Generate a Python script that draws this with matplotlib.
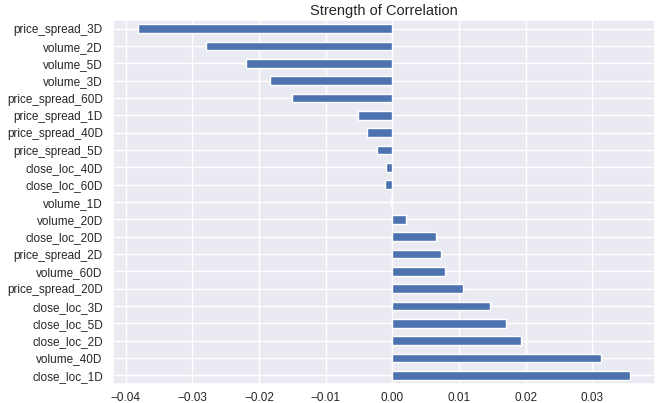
import matplotlib
matplotlib.use("Agg")
import matplotlib.pyplot as plt
import seaborn as sns
import pandas as pd

features = ["close_loc_1D", "volume_40D", "close_loc_2D", "close_loc_5D", "close_loc_3D",
            "price_spread_20D", "volume_60D", "price_spread_2D", "close_loc_20D", "volume_20D",
            "volume_1D", "close_loc_60D", "close_loc_40D", "price_spread_5D", "price_spread_40D",
            "price_spread_1D", "price_spread_60D", "volume_3D", "volume_5D", "volume_2D",
            "price_spread_3D"]
correlations = [0.0357, 0.0314, 0.0193, 0.0170, 0.0146,
                0.0106, 0.0079, 0.0073, 0.0066, 0.0020,
                -0.0002, -0.0011, -0.0010, -0.0023, -0.0038,
                -0.0051, -0.0150, -0.0184, -0.0219, -0.0279,
                -0.0382]

sns.set_theme(style="darkgrid")
plt.rcParams["font.family"] = ["Liberation Sans", "DejaVu Sans"]

s = pd.Series(correlations, index=features)
fig = plt.figure(figsize=(6.62, 4.03), dpi=100)
ax = fig.add_axes([0.171, 0.047, 0.818, 0.903])
s.plot.barh(ax=ax, color="#4C72B0")
ax.set_title("Strength of Correlation", fontsize=10.5, pad=4, color="#262626")
ax.tick_params(axis="y", labelsize=8.5, length=0, pad=7.5, labelcolor="#262626")
ax.tick_params(axis="x", labelsize=8.5, length=0, pad=6, labelcolor="#262626")
fig.savefig("out.png", dpi=100)
